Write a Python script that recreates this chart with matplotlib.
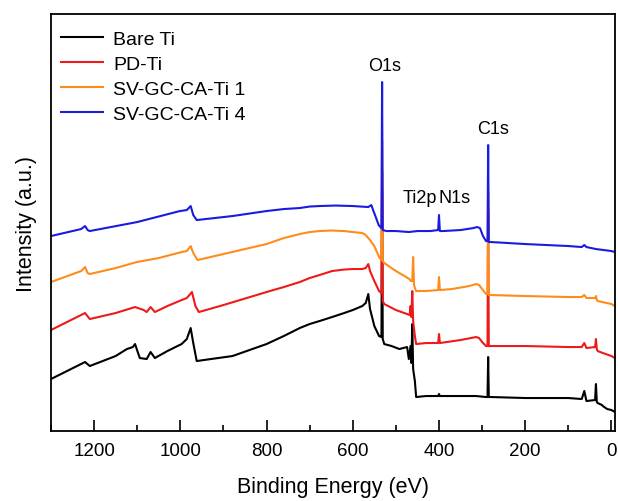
import matplotlib
matplotlib.use("Agg")
import matplotlib.pyplot as plt
from matplotlib.ticker import MultipleLocator

plt.rcParams['font.family'] = ['Liberation Sans', 'DejaVu Sans']

# espectros XPS (energia de enlace en eV, intensidad en u.a.)
be_bare = [1300, 1221, 1210, 1150, 1124, 1110, 1105, 1098, 1094, 1078, 1069, 1059,
           1030, 997, 985, 976, 970, 962, 879, 800, 760, 723, 700, 677, 648, 620,
           600, 578, 570, 564, 560, 557, 550, 539, 534, 533.5, 532, 530.5, 527,
           510, 492, 474, 470, 466, 464, 462, 460, 456, 453, 430, 402, 400, 398,
           314, 291, 287.5, 286, 284.5, 279, 200, 100, 69, 63, 58, 38, 36, 34, 32,
           22, 20, 10, 0, -8]
int_bare = [52, 69, 65, 75, 82, 84, 87, 78, 73, 72, 79, 73,
            80, 87, 92, 103, 88, 70, 75, 87, 95, 103, 107, 110, 114, 118,
            121, 125, 128, 137, 122, 117, 105, 95, 94, 94, 240, 92, 87,
            85, 82, 84, 72, 85, 68, 107, 62, 50, 34, 35, 35, 37, 35,
            35, 34, 34, 74, 34, 34, 33, 33, 32, 40, 30, 31, 47, 29, 28,
            26, 25, 22, 21, 19]

be_pd = [1300, 1221, 1210, 1150, 1105, 1085, 1078, 1069, 1059, 1030, 997, 985,
         973, 965, 957, 900, 800, 760, 723, 700, 677, 648, 620, 600, 578, 570,
         564, 560, 550, 539, 534, 533.5, 532, 530.5, 527, 500, 474, 468, 466,
         464, 462, 460, 456, 453, 430, 402, 400, 398, 350, 314, 307, 300, 291,
         287.5, 286, 284.5, 279, 200, 100, 69, 63, 58, 38, 36, 34, 32, 20, 0, -8]
int_pd = [101, 118, 112, 118, 124, 121, 119, 124, 119, 125, 131, 133,
          139, 125, 119, 126, 139, 144, 149, 153, 156, 160, 161.5, 162, 162, 163,
          167, 160, 150, 140, 138, 138, 260, 130, 127, 121, 117, 116, 125,
          114, 140, 110, 95, 87, 88, 88, 97, 88, 91, 94, 93, 89, 85,
          85, 220, 85, 85, 85, 84, 84, 88, 83, 84, 92, 82, 80, 78, 75, 73]

be_sv1 = [1300, 1230, 1221, 1215, 1210, 1150, 1101, 1050, 997, 985, 976, 970, 960,
          900, 800, 760, 723, 700, 677, 650, 620, 600, 578, 570, 562, 550, 539,
          534, 533.5, 532, 530.5, 527, 500, 480, 469, 465, 462, 460, 458, 455,
          453, 430, 402, 400, 398, 370, 330, 314, 307, 300, 291, 287.5, 286,
          284.5, 279, 200, 100, 69, 63, 58, 38, 36, 34, 32, 0, -8]
int_sv1 = [149, 160, 164, 158, 157, 163, 169, 173, 179, 180, 185, 178, 171,
           177, 187, 193, 197, 199, 200, 200.5, 200, 199, 198, 196, 192, 185, 174,
           171, 171, 290, 170, 168, 160, 155, 152, 150, 150, 174, 146, 142,
           140, 140, 141, 154, 141, 142, 145, 147, 146, 142, 137, 137, 240,
           136, 136, 135, 134, 134, 136, 133, 133, 135, 131, 130, 127, 125]

be_sv4 = [1300, 1230, 1221, 1215, 1210, 1100, 1001, 985, 976, 970, 962, 879, 800,
          760, 723, 700, 677, 640, 600, 564, 557, 552, 545, 540, 534, 533.5, 532,
          530.5, 522, 500, 470, 450, 420, 402, 400, 398, 390, 350, 320, 312, 305,
          298, 291, 287.5, 286, 284.5, 279, 200, 100, 69, 63, 58, 36, 0, -8]
int_sv4 = [195, 202, 205, 201, 200, 209, 220, 221, 225, 216, 211, 215, 220,
           222, 223, 224.5, 225, 225.5, 225, 224, 226, 220, 212, 206, 203, 203, 349,
           201, 200, 200, 199, 200, 200, 201, 216, 200, 200, 201, 203, 204, 203,
           195, 190, 190, 286, 189, 189, 187, 185, 184, 186, 184, 182, 180, 179]

etiquetas = ["Bare Ti", "PD-Ti", "SV-GC-CA-Ti 1", "SV-GC-CA-Ti 4"]
colores = ["black", "#ee1a1a", "#ff8c1a", "#1a1ae0"]

# picos marcados
picos = ["O1s", "Ti2p", "N1s", "C1s"]
picos_be = [526, 445, 364, 274]
picos_int = [366, 234, 234, 303]

fig = plt.figure(figsize=(6.18, 5.02), dpi=100)
ax = fig.add_axes([0.0825, 0.1394, 0.9125, 0.8306])

series = [(be_bare, int_bare), (be_pd, int_pd), (be_sv1, int_sv1), (be_sv4, int_sv4)]
for (x, y), lab, col in zip(series, etiquetas, colores):
    ax.plot(x, y, color=col, lw=1.5, label=lab)

for t, xb, yi in zip(picos, picos_be, picos_int):
    ax.text(xb, yi, t, fontsize=13, ha="center", va="center")

ax.set_xlim(1300, -8)
ax.set_ylim(0, 417)
ax.xaxis.set_major_locator(MultipleLocator(200))
ax.xaxis.set_minor_locator(MultipleLocator(100))
ax.tick_params(axis="x", which="major", direction="in", length=8, width=1.2,
               labelsize=13.5, pad=8, top=False)
ax.tick_params(axis="x", which="minor", direction="in", length=4, width=1.2, top=False)
ax.set_yticks([])
for s in ax.spines.values():
    s.set_linewidth(1.3)

ax.set_xlabel("Binding Energy (eV)", fontsize=15.5, labelpad=12)
ax.set_ylabel("Intensity (a.u.)", fontsize=15.5, labelpad=10)

ax.legend(loc="upper left", frameon=False, fontsize=14, handlelength=2.2,
          handletextpad=0.5, labelspacing=0.38, borderaxespad=0.1,
          bbox_to_anchor=(0.0, 0.985))

fig.savefig("out.png", dpi=100)
